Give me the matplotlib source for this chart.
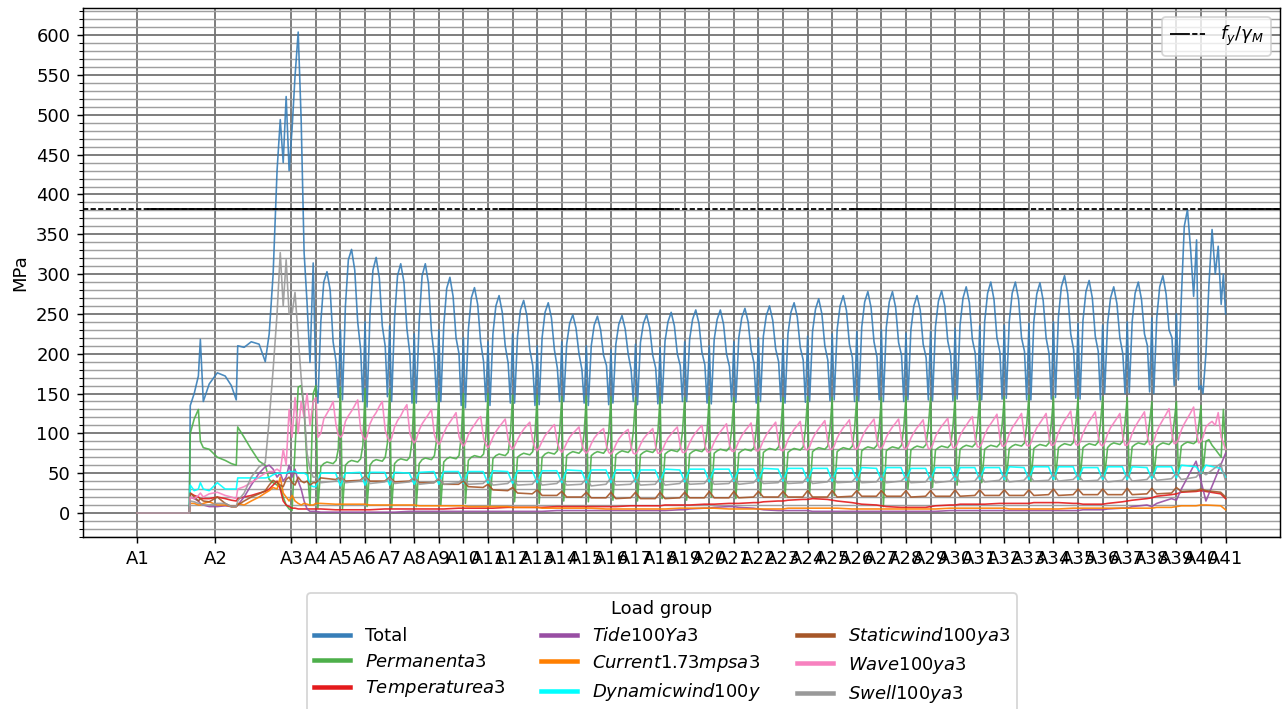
import matplotlib
matplotlib.use('Agg')
import matplotlib.pyplot as plt
from matplotlib.lines import Line2D
from matplotlib.ticker import MultipleLocator

# --- stations along the member ---
node_names = ["A%d" % i for i in range(1, 42)]
node_pos = [0.0, 3.17, 6.26, 7.26, 8.26, 9.26, 10.26, 11.26, 12.26, 13.26, 14.26,
            15.26, 16.26, 17.26, 18.26, 19.26, 20.26, 21.26, 22.26, 23.26, 24.26,
            25.26, 26.26, 27.26, 28.26, 29.26, 30.26, 31.26, 32.26, 33.26, 34.26,
            35.26, 36.26, 37.26, 38.26, 39.26, 40.26, 41.26, 42.26, 43.26, 44.26]

fy_over_gm = 420 / 1.1  # S420, gamma_M = 1.1

# --- first stretch A1 -> A4 (irregular sampling) ---
early_x = [0.00, 2.11, 2.15, 2.31, 2.48, 2.56, 2.68, 2.92, 3.25, 3.57, 3.82, 4.02,
           4.08, 4.34, 4.63, 4.95, 5.20, 5.36, 5.52, 5.68, 5.81, 5.93, 6.05, 6.17,
           6.29, 6.41, 6.54, 6.66, 6.78, 6.90, 7.02, 7.15]
total_early = [0, 0, 135, 150, 172, 218, 140, 162, 176, 172, 160, 142, 210, 208, 215, 212,
               190, 225, 300, 430, 494, 440, 523, 430, 482, 548, 604, 494, 327, 264, 189, 314]
perm_early = [0, 0, 100, 118, 130, 90, 82, 80, 70, 66, 62, 60, 108, 95, 80, 65,
              60, 42, 38, 35, 33, 20, 10, 5, 3, 80, 158, 160, 130, 60, 10, 150]
temp_early = [0, 0, 25, 22, 20, 18, 18, 18, 20, 18, 16, 15, 18, 20, 22, 25,
              27, 30, 35, 40, 30, 15, 10, 8, 6, 6, 5, 5, 5, 5, 5, 5]
tide_early = [0, 0, 20, 18, 15, 12, 10, 8, 8, 9, 8, 8, 10, 20, 35, 50,
              58, 60, 55, 45, 50, 40, 45, 60, 45, 55, 40, 30, 15, 5, 2, 2]
curr_early = [0, 0, 12, 12, 10, 10, 12, 14, 10, 10, 8, 8, 12, 10, 15, 20,
              25, 28, 32, 30, 45, 25, 20, 15, 22, 15, 12, 10, 12, 11, 10, 10]
dyn_early = [0, 0, 35, 28, 30, 38, 30, 28, 38, 30, 30, 30, 44, 44, 44, 44,
             44, 45, 48, 50, 50, 50, 50, 52, 52, 52, 50, 50, 50, 48, 35, 33]
stat_early = [0, 0, 25, 20, 15, 18, 15, 14, 20, 12, 8, 8, 10, 15, 20, 24,
              28, 35, 41, 38, 35, 33, 42, 45, 38, 35, 45, 40, 38, 40, 35, 38]
wave_early = [0, 0, 20, 18, 22, 25, 20, 24, 26, 22, 20, 18, 30, 33, 38, 45,
              50, 52, 52, 55, 52, 80, 60, 130, 95, 145, 100, 140, 120, 150, 110, 140]
swell_early = [0, 0, 15, 14, 12, 12, 10, 10, 12, 12, 8, 8, 15, 25, 45, 58,
               63, 117, 180, 250, 327, 260, 318, 250, 250, 277, 221, 170, 130, 75, 55, 45]

# --- repeating spans A4 -> A41, one row per span ---
fine_t = [0.0, 0.08, 0.2, 0.32, 0.45, 0.58, 0.7, 0.82, 0.91]
coarse_t = [0.0, 0.2, 0.8]

total_span = [
    [160, 138, 240, 290, 303, 280, 215, 190, 145], [230, 142, 260, 318, 331, 305, 240, 205, 140],
    [240, 133, 250, 305, 321, 295, 235, 209, 146], [235, 140, 245, 298, 313, 290, 232, 200, 138],
    [225, 138, 240, 298, 313, 288, 228, 195, 140], [230, 140, 235, 282, 296, 272, 220, 200, 135],
    [220, 132, 230, 270, 283, 262, 215, 190, 140], [215, 135, 225, 260, 273, 252, 210, 188, 138],
    [225, 138, 222, 255, 267, 248, 205, 185, 135], [210, 136, 220, 252, 264, 245, 205, 182, 140],
    [215, 140, 212, 238, 249, 232, 200, 180, 138], [210, 135, 210, 236, 247, 230, 198, 185, 136],
    [205, 138, 212, 237, 248, 231, 200, 180, 140], [212, 136, 214, 238, 249, 232, 198, 182, 137],
    [208, 138, 216, 240, 252, 235, 200, 185, 140], [215, 140, 218, 243, 255, 238, 202, 186, 138],
    [210, 137, 218, 243, 255, 237, 200, 184, 140], [215, 139, 220, 245, 257, 240, 205, 188, 138],
    [220, 140, 222, 248, 260, 242, 206, 190, 140], [218, 138, 225, 252, 264, 246, 208, 192, 139],
    [222, 140, 228, 256, 269, 250, 210, 192, 141], [225, 142, 230, 260, 273, 254, 212, 195, 140],
    [228, 141, 233, 265, 278, 258, 215, 196, 142], [230, 140, 233, 265, 278, 258, 214, 198, 140],
    [226, 142, 230, 260, 273, 255, 212, 195, 142], [228, 141, 234, 266, 279, 260, 216, 198, 141],
    [232, 143, 236, 270, 284, 264, 218, 200, 142], [235, 142, 240, 276, 290, 268, 220, 202, 143],
    [236, 144, 240, 276, 290, 268, 220, 203, 142], [238, 142, 240, 275, 289, 267, 220, 200, 143],
    [240, 145, 246, 284, 298, 275, 225, 205, 144], [238, 143, 242, 278, 292, 270, 222, 203, 142],
    [236, 150, 238, 270, 284, 263, 220, 200, 150], [240, 151, 240, 276, 290, 268, 225, 210, 152],
    [245, 150, 245, 284, 298, 275, 230, 220, 160], [250, 167, 270, 360, 381, 330, 272, 343, 155],
    [160, 150, 200, 285, 356, 300, 335, 262, 300],
]
perm_span = [
    [160, 6, 58, 62, 64, 63, 62, 66, 80], [158, 5, 60, 64, 66, 65, 64, 68, 85],
    [156, 8, 60, 65, 67, 66, 65, 70, 88], [155, 6, 62, 66, 68, 67, 66, 70, 90],
    [154, 8, 62, 67, 69, 68, 67, 72, 92], [152, 10, 64, 68, 70, 69, 68, 72, 95],
    [150, 12, 66, 70, 72, 71, 70, 74, 96], [150, 10, 68, 72, 74, 73, 72, 76, 98],
    [148, 14, 70, 73, 75, 74, 73, 77, 98], [148, 12, 70, 74, 76, 75, 74, 78, 100],
    [146, 15, 72, 75, 77, 76, 75, 79, 100], [147, 14, 72, 75, 77, 76, 75, 80, 100],
    [146, 16, 73, 76, 78, 77, 76, 80, 102], [145, 15, 73, 76, 78, 77, 76, 80, 102],
    [146, 18, 74, 77, 79, 78, 77, 81, 102], [145, 16, 74, 77, 79, 78, 77, 81, 103],
    [146, 20, 75, 78, 80, 79, 78, 82, 104], [145, 18, 75, 78, 80, 79, 78, 82, 104],
    [146, 22, 76, 79, 81, 80, 79, 83, 105], [145, 20, 76, 79, 81, 80, 79, 83, 105],
    [146, 25, 77, 80, 82, 81, 80, 84, 106], [145, 22, 77, 80, 82, 81, 80, 84, 106],
    [146, 28, 78, 81, 83, 82, 81, 85, 107], [145, 8, 78, 81, 83, 82, 81, 85, 107],
    [146, 30, 79, 82, 84, 83, 82, 86, 108], [145, 32, 79, 82, 84, 83, 82, 86, 108],
    [146, 35, 80, 83, 85, 84, 83, 87, 110], [148, 38, 80, 83, 85, 84, 83, 87, 110],
    [146, 40, 81, 84, 86, 85, 84, 88, 110], [148, 40, 81, 84, 86, 85, 84, 88, 112],
    [146, 42, 82, 85, 87, 86, 85, 89, 112], [145, 42, 82, 85, 87, 86, 85, 89, 112],
    [146, 45, 82, 86, 88, 87, 86, 90, 114], [145, 45, 83, 86, 88, 87, 86, 90, 114],
    [140, 45, 83, 86, 88, 87, 86, 90, 115], [140, 48, 84, 87, 89, 88, 87, 90, 110],
    [135, 50, 90, 92, 85, 80, 75, 70, 130],
]
wave_span = [
    [145, 95, 100, 118, 125, 132, 140, 110, 98], [95, 98, 115, 122, 128, 135, 142, 105, 96],
    [92, 96, 112, 120, 126, 134, 140, 104, 95], [90, 94, 108, 116, 122, 130, 136, 100, 92],
    [88, 92, 104, 112, 118, 124, 130, 98, 90], [86, 90, 100, 108, 114, 120, 126, 96, 88],
    [84, 88, 98, 105, 111, 117, 121, 94, 86], [82, 86, 95, 102, 108, 113, 118, 92, 84],
    [80, 84, 92, 99, 105, 110, 114, 90, 82], [78, 82, 90, 97, 102, 107, 111, 88, 80],
    [76, 80, 88, 95, 100, 104, 108, 86, 78], [75, 78, 87, 94, 99, 103, 106, 84, 76],
    [74, 77, 86, 93, 98, 102, 105, 83, 75], [74, 77, 86, 93, 98, 102, 106, 83, 75],
    [75, 78, 87, 94, 99, 104, 108, 84, 76], [76, 79, 88, 95, 101, 106, 110, 85, 77],
    [76, 80, 89, 96, 102, 107, 112, 86, 78], [77, 81, 90, 97, 103, 108, 113, 87, 78],
    [78, 82, 91, 98, 104, 109, 114, 88, 79], [78, 82, 92, 99, 105, 110, 115, 88, 80],
    [79, 83, 93, 100, 106, 111, 116, 89, 80], [80, 84, 94, 101, 107, 112, 117, 90, 81],
    [80, 84, 94, 102, 108, 113, 118, 90, 82], [81, 85, 95, 102, 108, 113, 118, 91, 82],
    [80, 84, 94, 101, 107, 112, 117, 90, 81], [81, 85, 96, 103, 109, 114, 119, 91, 82],
    [82, 86, 97, 104, 110, 116, 121, 92, 83], [83, 87, 98, 106, 112, 118, 124, 94, 84],
    [84, 88, 99, 107, 113, 119, 125, 95, 85], [84, 88, 99, 107, 113, 119, 125, 95, 85],
    [85, 89, 101, 109, 116, 122, 128, 97, 86], [85, 89, 100, 108, 115, 121, 127, 96, 86],
    [84, 88, 99, 107, 113, 119, 125, 95, 85], [85, 89, 100, 108, 115, 121, 127, 96, 86],
    [86, 90, 102, 110, 117, 124, 131, 98, 87], [88, 92, 104, 112, 119, 126, 133, 100, 88],
    [90, 95, 108, 112, 115, 110, 126, 95, 88],
]
dyn_span = [
    (33, 50, 50), (34, 50, 51), (35, 51, 51), (35, 51, 50), (36, 51, 52), (36, 52, 52),
    (37, 52, 52), (37, 53, 52), (37, 53, 53), (38, 53, 53), (38, 54, 53), (38, 54, 54),
    (38, 54, 54), (39, 54, 54), (39, 55, 54), (39, 55, 55), (39, 55, 55), (40, 55, 55),
    (40, 56, 55), (40, 56, 56), (40, 56, 56), (40, 56, 56), (41, 57, 56), (41, 57, 57),
    (41, 56, 56), (41, 57, 57), (41, 57, 57), (42, 57, 57), (42, 58, 57), (42, 58, 58),
    (42, 58, 58), (42, 57, 57), (42, 58, 58), (42, 58, 57), (43, 58, 58), (44, 60, 58),
    (50, 60, 56),
]
swell_span = [
    (45, 38, 40), (46, 38, 40), (45, 37, 39), (44, 37, 39), (45, 36, 38), (44, 36, 38),
    (44, 36, 37), (43, 35, 37), (43, 35, 36), (44, 35, 37), (43, 35, 36), (43, 34, 36),
    (44, 35, 36), (43, 35, 36), (44, 35, 37), (44, 36, 37), (45, 36, 37), (44, 36, 38),
    (45, 37, 38), (45, 37, 38), (46, 37, 39), (46, 38, 39), (46, 38, 39), (47, 38, 40),
    (46, 38, 39), (47, 38, 40), (47, 39, 40), (48, 39, 41), (48, 39, 41), (48, 40, 41),
    (49, 40, 42), (48, 40, 41), (48, 39, 41), (49, 40, 42), (49, 41, 43), (50, 42, 45),
    (52, 48, 62),
]
stat_span = [
    (38, 44, 42), (45, 40, 41), (46, 40, 40), (45, 39, 40), (44, 38, 38), (43, 36, 36),
    (40, 33, 32), (36, 29, 28), (32, 25, 24), (29, 22, 22), (27, 20, 20), (26, 19, 19),
    (26, 18, 19), (26, 18, 18), (26, 18, 19), (26, 19, 19), (27, 19, 19), (27, 19, 20),
    (27, 20, 20), (27, 20, 20), (28, 20, 20), (28, 20, 21), (28, 21, 21), (28, 21, 21),
    (28, 20, 21), (28, 21, 21), (29, 21, 22), (29, 22, 22), (29, 22, 22), (29, 22, 23),
    (30, 22, 23), (30, 23, 23), (30, 23, 23), (31, 23, 24), (31, 24, 25), (32, 27, 28),
    (30, 28, 26),
]
temp_span = [
    (5, 5, 4), (4, 4, 4), (4, 4, 5), (5, 5, 5), (5, 5, 5), (5, 5, 6), (6, 6, 6),
    (6, 6, 7), (7, 7, 7), (7, 7, 8), (8, 8, 8), (8, 8, 8), (8, 8, 9), (9, 9, 9),
    (9, 10, 10), (10, 10, 11), (11, 11, 12), (12, 12, 13), (13, 14, 15), (15, 16, 17),
    (17, 18, 17), (16, 15, 13), (12, 11, 10), (9, 8, 7), (7, 7, 7), (8, 9, 10),
    (10, 11, 11), (11, 11, 12), (12, 12, 12), (12, 13, 13), (13, 13, 12), (12, 11, 11),
    (11, 12, 14), (15, 16, 18), (19, 21, 23), (24, 26, 27), (28, 27, 24),
]
curr_span = [
    (12, 12, 11), (11, 11, 11), (11, 10, 10), (10, 10, 10), (10, 9, 9), (9, 9, 9),
    (9, 8, 8), (8, 8, 8), (7, 7, 7), (7, 6, 6), (6, 6, 6), (6, 6, 5), (5, 5, 5),
    (5, 5, 5), (5, 5, 6), (6, 6, 6), (6, 6, 5), (5, 5, 5), (5, 5, 5), (5, 6, 6),
    (6, 6, 6), (6, 6, 5), (5, 5, 5), (5, 5, 5), (5, 5, 5), (5, 5, 6), (6, 6, 6),
    (6, 6, 6), (6, 5, 5), (5, 5, 5), (5, 5, 6), (6, 6, 6), (6, 6, 6), (6, 6, 6),
    (6, 7, 7), (8, 9, 9), (10, 10, 9),
]
tide_span = [
    (2, 1, 1), (1, 1, 1), (1, 1, 1), (1, 1, 2), (2, 2, 2), (2, 2, 2), (2, 2, 2),
    (2, 2, 2), (2, 2, 2), (2, 2, 3), (3, 3, 3), (3, 3, 3), (3, 3, 3), (3, 3, 3),
    (3, 3, 4), (4, 5, 6), (6, 7, 8), (8, 7, 6), (5, 4, 3), (3, 3, 3), (3, 2, 2),
    (2, 2, 2), (2, 2, 2), (2, 2, 2), (2, 2, 2), (2, 2, 3), (3, 3, 3), (3, 3, 3),
    (3, 3, 3), (3, 3, 3), (3, 3, 3), (3, 4, 4), (4, 5, 6), (6, 8, 10), (8, 12, 18),
    (16, 30, 65), (40, 15, 60),
]

end_vals = {"total": 250, "perm": 80, "temp": 18, "tide": 75, "curr": 4,
            "dyn": 45, "stat": 20, "wave": 80, "swell": 40}


def build(early, rows, t_grid, end):
    xs = list(early_x)
    ys = list(early)
    for k, row in enumerate(rows):
        a, b = node_pos[3 + k], node_pos[4 + k]
        for t, v in zip(t_grid, row):
            xs.append(a + t * (b - a))
            ys.append(v)
    xs.append(node_pos[-1])
    ys.append(end)
    return xs, ys


series = [
    ("Total", total_early, total_span, fine_t, end_vals["total"], "#377eb8"),
    (r"$Permanenta3$", perm_early, perm_span, fine_t, end_vals["perm"], "#4daf4a"),
    (r"$Temperaturea3$", temp_early, temp_span, coarse_t, end_vals["temp"], "#e41a1c"),
    (r"$Tide100Ya3$", tide_early, tide_span, coarse_t, end_vals["tide"], "#984ea3"),
    (r"$Current1.73mpsa3$", curr_early, curr_span, coarse_t, end_vals["curr"], "#ff7f00"),
    (r"$Dynamicwind100y$", dyn_early, dyn_span, coarse_t, end_vals["dyn"], "#00ffff"),
    (r"$Staticwind100ya3$", stat_early, stat_span, coarse_t, end_vals["stat"], "#a65628"),
    (r"$Wave100ya3$", wave_early, wave_span, fine_t, end_vals["wave"], "#f781bf"),
    (r"$Swell100ya3$", swell_early, swell_span, coarse_t, end_vals["swell"], "#999999"),
]

DPI = 130
fig = plt.figure(figsize=(1285 / DPI, 709 / DPI), dpi=DPI)
ax = fig.add_axes([83 / 1285, 1 - 537 / 709, (1280 - 83) / 1285, (537 - 8) / 709])

lines = []
for label, early, rows, tg, end, color in series:
    xs, ys = build(early, rows, tg, end)
    ln, = ax.plot(xs, ys, color=color, linewidth=0.9, alpha=0.9, label=label)
    lines.append(ln)

# design limit: fine dashes under long solid stretches
ax.axhline(fy_over_gm, color="k", linewidth=1.0, linestyle=(0, (2.9, 1.3)))
ax.axhline(fy_over_gm, color="k", linewidth=1.0, linestyle=(159.5, (97, 97.9)))
fy_handle = Line2D([], [], color="k", linewidth=1.0,
                   linestyle=(0, (11, 1.3, 2.9, 1.3, 2.9, 1.3, 2.9, 1.3, 2.9, 1.3)))
ax.legend([fy_handle], [r"$f_y/\gamma_M$"], loc="upper right")

ax.set_xticks(node_pos)
ax.set_xticklabels(node_names)
ax.yaxis.set_major_locator(MultipleLocator(50))
ax.yaxis.set_minor_locator(MultipleLocator(10))
ax.set_axisbelow(True)
ax.grid(which="major", color="0.45", linewidth=1.0)
ax.grid(which="minor", axis="y", color="0.62", linewidth=0.8)
ax.set_ylabel("MPa")

leg = fig.legend(lines, [s[0] for s in series], loc="upper center", ncol=3,
                 title="Load group", bbox_to_anchor=(662 / 1285, 1 - 593 / 709),
                 borderaxespad=0, labelspacing=0.4)
for h in leg.legend_handles:
    h.set_linewidth(2.5)
    h.set_alpha(1.0)

fig.savefig("out.png", dpi=DPI)
